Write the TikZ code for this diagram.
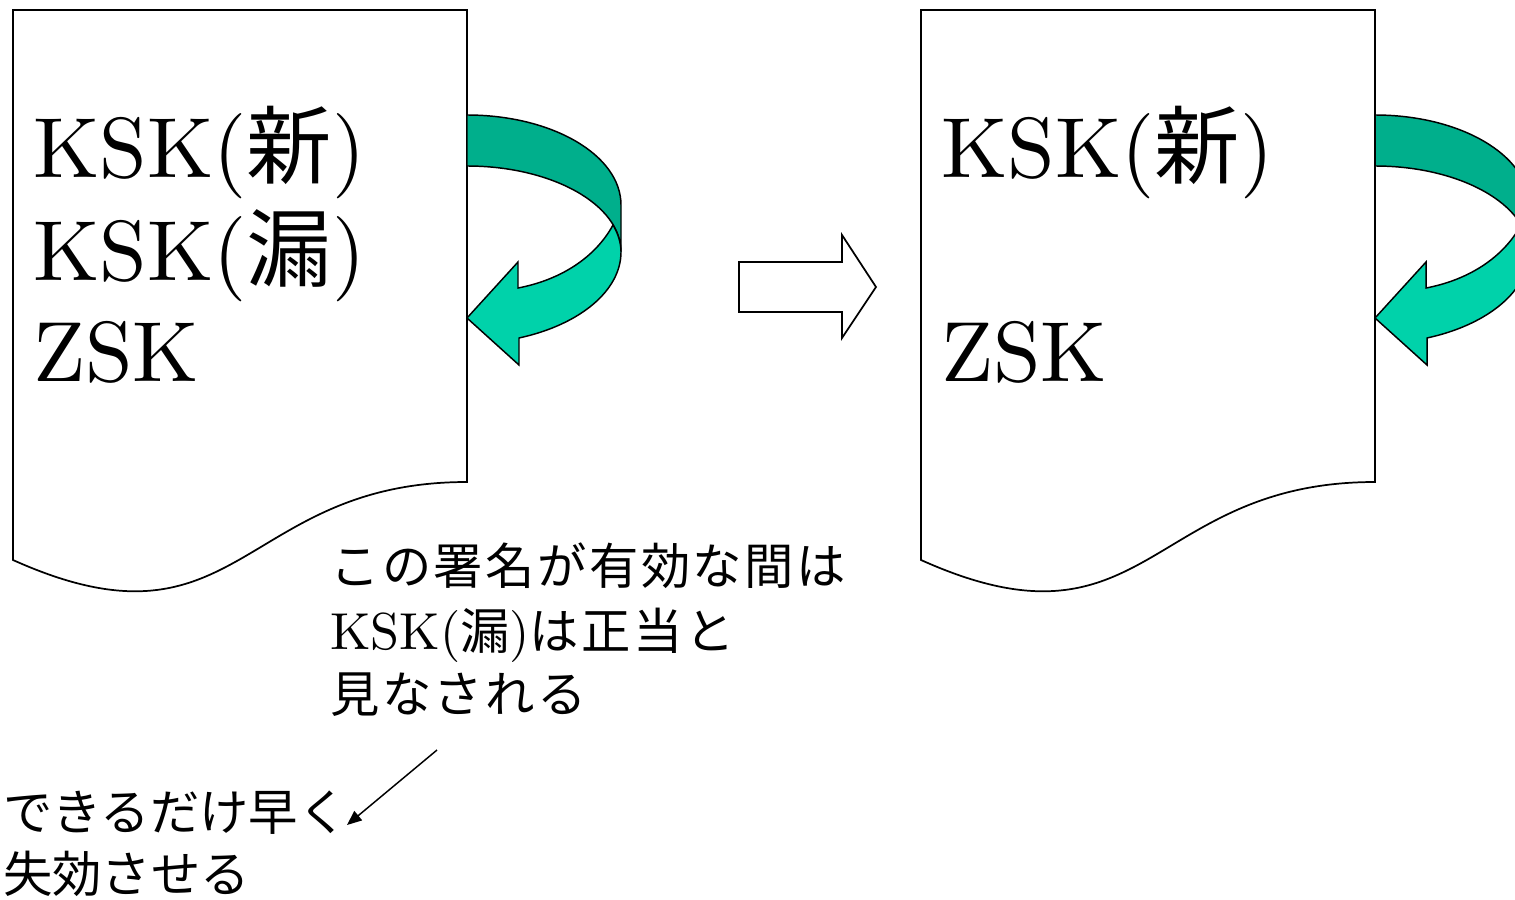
\documentclass[tikz,border=0pt]{standalone}
\usepackage{fontspec}
\newfontfamily\jp{Noto Sans CJK JP}
\newfontfamily\jpsp{Noto Sans CJK JP}[LetterSpace=5]
\newfontfamily\lmb{lmroman10-regular.otf}
\usetikzlibrary{arrows.meta}
\definecolor{backgreen}{RGB}{0,175,140}
\definecolor{frontgreen}{RGB}{0,210,170}
\tikzset{
  outline/.style={draw=black,line width=1.3pt,line join=miter},
  bigtext/.style={anchor=base west,inner sep=0pt,font=\fontsize{64}{80}\selectfont\lmb},
  note/.style={anchor=base west,inner sep=0pt,font=\fontsize{37}{44}\selectfont\jp},
  notesp/.style={anchor=base west,inner sep=0pt,font=\fontsize{37}{44}\selectfont\jpsp},
}
\newcommand\docshape{%
  \draw[outline,fill=white] (13,10) -- (467,10) -- (467,482)
    .. controls (240,482) and (240,662) .. (13,560) -- cycle;}
\newcommand\turnarrow{%
  \draw[outline,line width=1.1pt,fill=backgreen] (467,115) .. controls (552,115) and (621,155) .. (621,205)
    -- (621,252) .. controls (621,204.5) and (552,166) .. (467,166) -- cycle;
  \draw[outline,line width=1.1pt,fill=frontgreen] (613,225) .. controls (618,233.5) and (621,242.7) .. (621,252)
    .. controls (621,290.4) and (580.2,324.7) .. (519,338) -- (519,365) -- (467,318) -- (518,262) -- (518,288)
    .. controls (560,280) and (595,258) .. (613,225) -- cycle;}
\begin{document}
\begin{tikzpicture}[x=0.75pt,y=-0.75pt]
\useasboundingbox (0,0) rectangle (1515,899);
\clip (0,0) rectangle (1515,899);
% left document
\docshape
\turnarrow
% right document
\begin{scope}[shift={(908,0)}]
\docshape
\turnarrow
\end{scope}
% middle block arrow
\draw[outline,fill=white] (739,262) -- (842,262) -- (842,235) -- (876,287) -- (842,338) -- (842,312) -- (739,312) -- cycle;
% texts in left document
\node[bigtext] (lnew) at (33,177) {KSK({\jp 新})};
\node[bigtext] (lleak) at (33,280) {KSK({\jp 漏})};
\node[bigtext] (lzsk) at (33,381) {ZSK};
% texts in right document
\node[bigtext] (rnew) at (941,177) {KSK({\jp 新})};
\node[bigtext] (rzsk) at (941,381) {ZSK};
% annotation
\node[notesp] (n1) at (330,584) {この署名が有効な間は};
\node[notesp] (n2) at (330,649) {{\fontsize{39}{44}\selectfont\lmb KSK(}漏{\fontsize{39}{44}\selectfont\lmb )}は正当と};
\node[notesp] (n3) at (330,712) {見なされる};
\node[note] (m1) at (3,830) {できるだけ早く};
\node[note] (m2) at (3,892) {失効させる};
\coordinate (ptrS) at (437,750);
\coordinate (ptrE) at (347,825);
\draw[line width=1.1pt,-{Triangle[length=11pt,width=9pt]}] (ptrS) -- (ptrE);
\end{tikzpicture}
\end{document}
